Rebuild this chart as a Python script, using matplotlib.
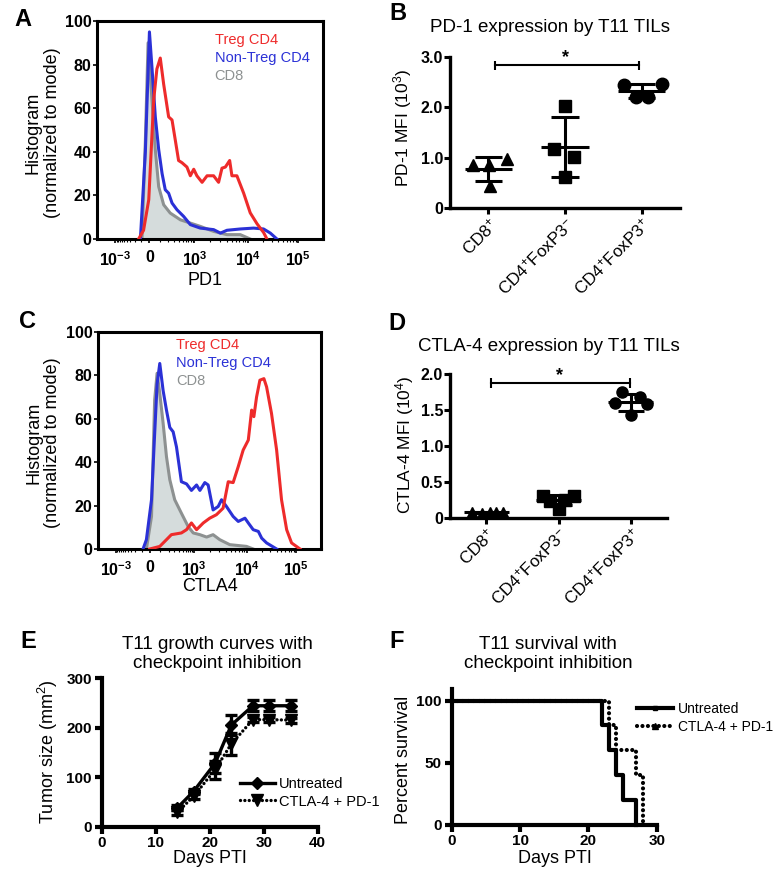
import matplotlib
matplotlib.use('Agg')
import matplotlib.pyplot as plt
import matplotlib.transforms as mtransforms
import numpy as np
from matplotlib.lines import Line2D

plt.rcParams['font.family'] = ['Liberation Sans', 'DejaVu Sans']
plt.rcParams['mathtext.fontset'] = 'custom'
plt.rcParams['mathtext.rm'] = 'Liberation Sans'
plt.rcParams['mathtext.it'] = 'Liberation Sans:italic'
plt.rcParams['mathtext.bf'] = 'Liberation Sans:bold'

W, H = 783, 894

# ---------------- data ----------------
# flow histograms, x in display channel units (0-100), y in % of mode
pd1_treg_x = [18.4, 20.6, 22.9, 25.1, 26.5, 28.0, 29.5, 31.7, 33.2, 34.7, 36.1, 37.6, 39.8, 41.3, 42.8,
              44.2, 46.5, 48.7, 51.6, 53.8, 55.3, 56.8, 58.7, 59.7, 61.9, 64.9, 67.8, 70.8, 73.7, 75.2]
pd1_treg_y = [0, 4, 18, 64, 78, 83, 71, 56, 54.6, 45, 36, 35, 33, 29, 32,
              29, 26, 29, 29, 26, 32.5, 33, 36, 29, 29, 21, 12, 7, 3, 0]
pd1_conv_x = [19.2, 21.4, 23.2, 24.3, 25.8, 27.3, 28.8, 30.2, 31.7, 33.2, 35.4, 38.3, 41.3, 45.7,
              51.6, 54.6, 57.5, 63.4, 69.3, 73.7, 76.7, 79.6]
pd1_conv_y = [0, 40, 95, 79, 56, 41, 30, 22.6, 21, 16.5, 13.4, 10.4, 6.6, 5,
              4.3, 2.7, 4, 4.6, 5, 4.6, 2.7, 0]
pd1_cd8_x = [19.9, 21.4, 22.6, 24.3, 25.8, 27.3, 29.5, 32.4, 36.9, 41.3, 45.7, 51.6, 57.5, 63.4, 67.8]
pd1_cd8_y = [0, 45, 90, 64, 41, 24, 15.7, 11.9, 8.8, 7.3, 5.8, 3.5, 2, 2, 0]

ctla4_treg_x = [23.2, 27.7, 30.7, 32.9, 37.4, 39.7, 41.9, 44.2, 47.2, 50.1, 53.1, 56.1, 58.4, 60.6, 62.9,
                65.1, 67.4, 68.9, 69.9, 71.1, 72.6, 74.4, 75.6, 77.8, 80.1, 82.3, 84.6, 86.8, 90.6]
ctla4_treg_y = [0, 1.2, 4.3, 6.6, 7.4, 8.9, 12, 8.9, 12, 14.2, 15.8, 18.8, 31, 30.6, 38,
                45.6, 50.2, 64, 61, 70, 77.8, 78.5, 74.7, 62.5, 45.6, 22.7, 8.9, 2.8, 0]
ctla4_conv_x = [20.2, 21.7, 24.0, 25.4, 26.5, 27.7, 29.2, 30.7, 32.2, 33.7, 35.2, 37.4, 39.7, 41.9, 44.2,
                45.7, 47.9, 49.4, 51.6, 53.9, 55.4, 57.6, 60.6, 62.9, 65.9, 67.4, 69.6, 71.9, 73.4, 75.6, 80.1]
ctla4_conv_y = [0, 4.3, 22.7, 53, 76, 85.5, 73, 64, 56, 54, 47, 31, 30, 27, 29.5,
                27, 30.6, 29.5, 18, 19.6, 22.7, 19.6, 15, 12.7, 14.2, 12, 8.9, 8.1, 5, 2.8, 0]
ctla4_cd8_x = [21.7, 24.0, 25.4, 26.5, 27.7, 29.2, 30.7, 32.2, 34.4, 37.4, 40.4, 42.7, 45.7, 48.7,
               51.6, 54.6, 59.1, 66.6, 69.6]
ctla4_cd8_y = [0, 15, 68.6, 81, 71.7, 58, 42.6, 31.9, 22.7, 16.5, 10.4, 7.4, 6.6, 5.5,
               6.6, 4.3, 2, 1.2, 0]

flow_tick_labels = ['$\\mathregular{10^{-3}}$', '0', '$\\mathregular{10^{3}}$',
                    '$\\mathregular{10^{4}}$', '$\\mathregular{10^{5}}$']
flow_tick_values = [-1e3, 0, 1e3, 1e4, 1e5]

groups = ['CD8$^{+}$', 'CD4$^{+}$FoxP3$^{-}$', 'CD4$^{+}$FoxP3$^{+}$']

# MFI per mouse
pd1_cd8 = [0.86, 0.86, 0.97, 0.43]
pd1_cd4_neg = [2.03, 1.17, 1.01, 0.61]
pd1_cd4_pos = [2.44, 2.46, 2.20, 2.21]

ctla4_cd8 = [0.08, 0.07, 0.09, 0.08, 0.08]
ctla4_cd4_neg = [0.30, 0.24, 0.13, 0.25, 0.30]
ctla4_cd4_pos = [1.745, 1.68, 1.60, 1.59, 1.43]

# tumour growth
days = [14, 17, 21, 24, 28, 31, 35]
untreated_mean = [38, 71, 128, 205, 244, 244, 244]
untreated_sem = [5, 6, 20, 20, 11, 11, 11]
combo_mean = [29, 61, 115, 167, 216, 216, 215]
combo_sem = [5, 6, 18, 22, 5, 5, 5]

# survival
untreated_days = [0, 22, 23, 24, 25, 27]
untreated_surv = [100, 80, 60, 40, 20, 0]
combo_days = [0, 23, 24, 27, 28]
combo_surv = [100, 80, 60, 40, 0]

# ---------------- style ----------------
RED = '#ee2b2b'
BLUE = '#2b31d6'
GRAY = '#8d9191'
FILL = '#d5dcdc'
DOTS = (0, (0.01, 1.3))

fig = plt.figure(figsize=(W / 100, H / 100), dpi=100)


def px_axes(left, top, right, bottom):
    return fig.add_axes([left / W, 1 - bottom / H, (right - left) / W, (bottom - top) / H])


def flow_pos(v):
    # approximate biexponential display used by the cytometry software
    if v >= 1e4:
        return 66.7 + np.log10(v / 1e4) * 22.2
    if v >= 1e3:
        return 43.1 + np.log10(v / 1e3) * 23.6
    if v >= 0:
        return 23.2 + np.arcsinh(v / 150) / np.arcsinh(1000 / 150) * 19.9
    return 23.2 - np.arcsinh(-v / 150) / np.arcsinh(1000 / 150) * 15.1


def panel_letter(x, y, s):
    fig.text(x / W, 1 - y / H, s, fontsize=17, fontweight='bold', ha='center', va='center')


def flow_panel(ax, curves, legend_x, legend_y, xlabel, xlab_xy, ylab_xy):
    (gx, gy), (bx, by), (rx, ry) = curves
    ax.fill_between(gx, gy, color=FILL, lw=0, zorder=1)
    ax.plot(gx, gy, color=GRAY, lw=2.2, zorder=2)
    ax.plot(bx, by, color=BLUE, lw=2.2, zorder=3)
    ax.plot(rx, ry, color=RED, lw=2.2, zorder=4)
    ax.set_xlim(0, 100)
    ax.set_ylim(0, 100)
    ax.set_xticks([flow_pos(v) for v in flow_tick_values])
    ax.set_xticklabels(flow_tick_labels, fontweight='bold', fontsize=11.5)
    minors = []
    for d in [100, 1000, 10000]:
        for k in range(2 if d > 100 else 1, 10):
            minors.append(flow_pos(k * d))
    for k in range(1, 10):
        minors.append(flow_pos(-k * 100))
    ax.set_xticks([m for m in minors if 0 < m < 100], minor=True)
    ax.set_yticks(range(0, 101, 20))
    ax.set_yticklabels([str(v) for v in range(0, 101, 20)], fontweight='bold', fontsize=11.5)
    ax.tick_params(axis='x', which='major', length=3, width=1.2, pad=5)
    ax.tick_params(axis='x', which='minor', length=2, width=0.8)
    ax.tick_params(axis='y', length=3, width=1.2, pad=1)
    for sp in ax.spines.values():
        sp.set_linewidth(2.2)
    for i, (lab, col) in enumerate([('Treg CD4', RED), ('Non-Treg CD4', BLUE), ('CD8', GRAY)]):
        ax.text(legend_x, legend_y - i * 0.082, lab, color=col, fontsize=10.5,
                transform=ax.transAxes, va='center', ha='left')
    ax.text(xlab_xy[0], xlab_xy[1], xlabel, fontsize=13, transform=ax.transAxes, ha='center', va='center')
    ax.text(ylab_xy[0], ylab_xy[1], 'Histogram\n(normalized to mode)', fontsize=13, rotation=90,
            transform=ax.transAxes, ha='center', va='center', linespacing=1.15)


def mfi_panel(ax, values, offsets, markers, msizes, ylim, yticks, yticklabels, ylabel, ylab_xy,
              sig_x, sig_y, cap_h):
    for i, (vals, offs, m, ms) in enumerate(zip(values, offsets, markers, msizes)):
        vals = np.array(vals)
        ax.plot(i + np.array(offs), vals, m, color='black', ms=ms, ls='none', clip_on=False, zorder=3)
        mean, sd = vals.mean(), vals.std(ddof=1)
        ax.hlines(mean, i - 0.31, i + 0.31, color='black', lw=2.2, zorder=4)
        ax.hlines([mean - sd, mean + sd], i - 0.18, i + 0.18, color='black', lw=2.2, zorder=4)
        ax.vlines(i, mean - sd, mean + sd, color='black', lw=2.2, zorder=4)
    ax.plot(sig_x, [sig_y, sig_y], color='black', lw=1.5, clip_on=False)
    ax.vlines(sig_x, sig_y - cap_h, sig_y + cap_h, color='black', lw=1.5, clip_on=False)
    ax.text(np.mean(sig_x) - 0.02, sig_y + 1.6 * cap_h, '*', fontsize=13, fontweight='bold',
            ha='center', va='center')
    ax.set_xlim(-0.5, 2.5)
    ax.set_ylim(*ylim)
    ax.set_yticks(yticks)
    ax.set_yticklabels(yticklabels, fontweight='bold', fontsize=11.5)
    ax.set_xticks(range(3))
    ax.set_xticklabels(groups, rotation=45, ha='right', va='top', rotation_mode='anchor', fontsize=12.3)
    shift = mtransforms.ScaledTranslation(0.04, 0, fig.dpi_scale_trans)
    for lab in ax.get_xticklabels():
        lab.set_transform(lab.get_transform() + shift)
    ax.tick_params(axis='x', length=4.3, width=2.2, pad=0.5)
    ax.tick_params(axis='y', length=4, width=2.2, pad=1)
    for s in ['top', 'right']:
        ax.spines[s].set_visible(False)
    for s in ['left', 'bottom']:
        ax.spines[s].set_linewidth(2.4)
    ax.text(ylab_xy[0], ylab_xy[1], ylabel, fontsize=12.5, rotation=90, transform=ax.transAxes,
            ha='center', va='center')


def prism_axes(ax):
    for s in ['top', 'right']:
        ax.spines[s].set_visible(False)
    for s in ['left', 'bottom']:
        ax.spines[s].set_linewidth(3)
    ax.tick_params(length=5, width=3, labelsize=11)
    ax.tick_params(axis='x', pad=1.5)
    ax.tick_params(axis='y', pad=2)
    for lab in ax.get_xticklabels() + ax.get_yticklabels():
        lab.set_fontweight('bold')


# ---------------- A ----------------
axA = px_axes(97, 21, 323, 239)
flow_panel(axA, [(pd1_cd8_x, pd1_cd8_y), (pd1_conv_x, pd1_conv_y), (pd1_treg_x, pd1_treg_y)],
           0.52, 0.913, 'PD1', (0.478, -0.19), (-0.241, 0.486))
panel_letter(23, 20, 'A')

# ---------------- C ----------------
axC = px_axes(98, 332, 321, 549)
flow_panel(axC, [(ctla4_cd8_x, ctla4_cd8_y), (ctla4_conv_x, ctla4_conv_y), (ctla4_treg_x, ctla4_treg_y)],
           0.35, 0.94, 'CTLA4', (0.502, -0.175), (-0.246, 0.488))
panel_letter(27, 322, 'C')

# ---------------- B ----------------
axB = px_axes(450, 57, 680, 208)
mfi_panel(axB, [pd1_cd8, pd1_cd4_neg, pd1_cd4_pos],
          [[-0.2, 0.01, 0.24, 0.02], [0.0, -0.14, 0.12, 0.0], [-0.23, 0.26, -0.07, 0.08]],
          ['^', 's', 'o'], [9, 8.5, 9],
          (0, 3.0), [0, 1, 2, 3], ['0', '1.0', '2.0', '3.0'],
          'PD-1 MFI (10$^{3}$)', (-0.205, 0.53), [0.09, 1.96], 2.84, 0.09)
fig.text(550 / W, 1 - 28 / H, 'PD-1 expression by T11 TILs', fontsize=13.5, ha='center', va='center')
panel_letter(398, 14, 'B')

# ---------------- D ----------------
axD = px_axes(450, 374, 667, 518)
mfi_panel(axD, [ctla4_cd8, ctla4_cd4_neg, ctla4_cd4_pos],
          [[-0.19, -0.06, 0.05, 0.14, 0.23], [-0.21, -0.12, 0.0, 0.09, 0.21], [-0.12, 0.13, -0.22, 0.22, 0.0]],
          ['^', 's', 'o'], [7, 8, 8],
          (0, 2.0), [0, 0.5, 1, 1.5, 2], ['0', '0.5', '1.0', '1.5', '2.0'],
          'CTLA-4 MFI (10$^{4}$)', (-0.21, 0.506), [0.065, 1.99], 1.87, 0.07)
fig.text(549 / W, 1 - 346 / H, 'CTLA-4 expression by T11 TILs', fontsize=13.5, ha='center', va='center')
panel_letter(397, 323, 'D')

# ---------------- E ----------------
axE = px_axes(101.7, 678, 317.7, 826.7)
axE.errorbar(days, untreated_mean, yerr=untreated_sem, color='black', lw=2.4, marker='D', ms=6,
             capsize=4.5, capthick=2.4, elinewidth=2.4, clip_on=False, zorder=4, label='Untreated')
axE.errorbar(days, combo_mean, yerr=combo_sem, color='black', lw=2.4, ls=DOTS, marker='v', ms=8,
             capsize=4.5, capthick=2.4, elinewidth=2.4, clip_on=False, zorder=3,
             dash_capstyle='round', label='CTLA-4 + PD-1')
axE.set_xlim(0, 40)
axE.set_ylim(0, 300)
axE.set_xticks(range(0, 41, 10))
axE.set_yticks(range(0, 301, 100))
prism_axes(axE)
hE = [Line2D([], [], color='black', lw=2.4, marker='D', ms=6),
      Line2D([], [], color='black', lw=2.4, ls=DOTS, dash_capstyle='round', marker='v', ms=8)]
axE.legend(hE, ['Untreated', 'CTLA-4 + PD-1'], loc='upper left', bbox_to_anchor=(0.64, 0.335),
           frameon=False, fontsize=10.5, handlelength=2.4, handletextpad=0.3, labelspacing=0.25,
           borderpad=0, borderaxespad=0)
axE.text(0.501, -0.215, 'Days PTI', fontsize=13, transform=axE.transAxes, ha='center', va='center')
axE.text(-0.247, 0.504, 'Tumor size (mm$^{2}$)', fontsize=13, rotation=90, transform=axE.transAxes,
         ha='center', va='center')
fig.text(217 / W, 1 - 654 / H, 'T11 growth curves with\ncheckpoint inhibition', fontsize=13.5,
         ha='center', va='center', linespacing=1.2)
panel_letter(28, 641, 'E')

# ---------------- F ----------------
axF = px_axes(451.7, 689.4, 656.7, 825)
axF.step(untreated_days, untreated_surv, where='post', color='black', lw=3, clip_on=False, zorder=4)
axF.step(combo_days, combo_surv, where='post', color='black', lw=3, ls=DOTS, dash_capstyle='round',
         clip_on=False, zorder=3)
axF.set_xlim(0, 30)
axF.set_ylim(0, 109)
axF.set_xticks(range(0, 31, 10))
axF.set_yticks([0, 50, 100])
prism_axes(axF)
hF = [Line2D([], [], color='black', lw=3, marker='s', ms=3),
      Line2D([], [], color='black', lw=3, ls=DOTS, dash_capstyle='round', marker='^', ms=4)]
axF.legend(hF, ['Untreated', 'CTLA-4 + PD-1'], loc='upper left', bbox_to_anchor=(0.905, 0.91),
           frameon=False, fontsize=10, handlelength=2.6, handletextpad=0.3, labelspacing=0.3,
           borderpad=0, borderaxespad=0)
axF.text(0.504, -0.25, 'Days PTI', fontsize=13, transform=axF.transAxes, ha='center', va='center')
axF.text(-0.236, 0.479, 'Percent survival', fontsize=13, rotation=90, transform=axF.transAxes,
         ha='center', va='center')
fig.text(548 / W, 1 - 654 / H, 'T11 survival with\ncheckpoint inhibition', fontsize=13.5,
         ha='center', va='center', linespacing=1.2)
panel_letter(397, 641, 'F')

fig.savefig('out.png', dpi=100, facecolor='white')
